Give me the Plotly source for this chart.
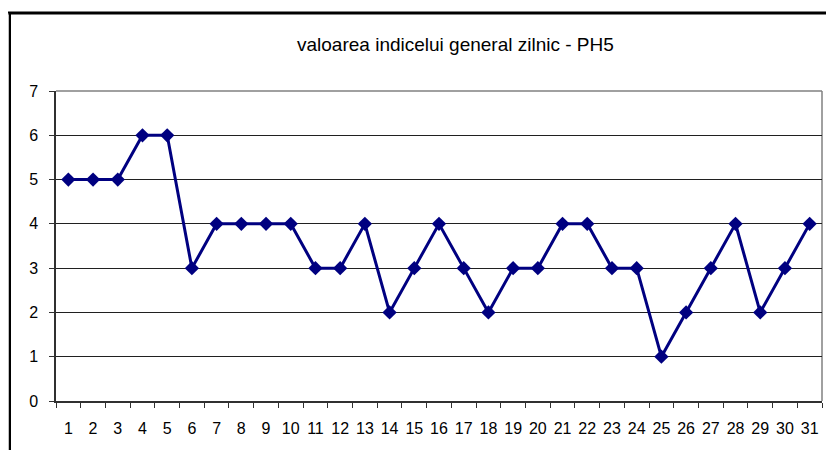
import plotly.graph_objects as go

days = list(range(1, 32))
values = [5, 5, 5, 6, 6, 3, 4, 4, 4, 4, 3, 3, 4, 2, 3, 4, 3, 2, 3, 3, 4, 4, 3, 3, 1, 2, 3, 4, 2, 3, 4]
y_ticks = [0, 1, 2, 3, 4, 5, 6, 7]
title_text = "valoarea indicelui general zilnic - PH5"

# page body has an 8px margin; work in figure pixels = screen pixels - 8
OFF = 8
W, H = 834 - OFF, 450 - OFF
L, T = 56 - OFF, 91 - OFF
RIGHT, BOTTOM = 822 - OFF, 401 - OFF
R, B = W - RIGHT, H - BOTTOM
pw, ph = RIGHT - L, BOTTOM - T

def px2x(px):
    return (px - OFF - L) / pw

def py2y(py):
    return (BOTTOM - (py - OFF)) / ph

fig = go.Figure()
fig.add_trace(go.Scatter(
    x=days, y=values, mode="lines+markers",
    line=dict(color="#000080", width=3),
    marker=dict(symbol="diamond", size=11, color="#000080"),
    showlegend=False, hoverinfo="x+y",
))

font = dict(family="Liberation Sans, Arial, sans-serif", size=16, color="#000000")

fig.update_layout(
    width=W, height=H,
    margin=dict(l=L, r=R, t=T, b=B),
    paper_bgcolor="white", plot_bgcolor="white",
    font=font,
    annotations=[dict(
        text=title_text, x=px2x(455), y=py2y(44), xref="paper", yref="paper",
        showarrow=False, xanchor="center", yanchor="middle",
        font=dict(family="Liberation Sans, Arial, sans-serif", size=19, color="#000000"),
    )],
    shapes=[
        dict(type="line", xref="paper", yref="paper", x0=px2x(8), x1=px2x(900), y0=py2y(13), y1=py2y(13),
             line=dict(color="#000000", width=3)),
        dict(type="line", xref="paper", yref="paper", x0=px2x(10), x1=px2x(10), y0=py2y(13), y1=py2y(500),
             line=dict(color="#000000", width=2)),
        dict(type="line", xref="paper", yref="paper", x0=px2x(8), x1=px2x(8), y0=py2y(13), y1=py2y(500),
             line=dict(color="#808080", width=1)),
        dict(type="line", xref="paper", yref="paper", x0=0, x1=1, y0=1, y1=1,
             line=dict(color="#808080", width=1.5), layer="below"),
        dict(type="line", xref="paper", yref="paper", x0=1, x1=1, y0=0, y1=1,
             line=dict(color="#808080", width=1.5), layer="below"),
    ],
)

fig.update_xaxes(
    range=[0.5, 31.5], tickmode="array", tickvals=days, ticktext=[str(d) for d in days],
    ticks="", ticklen=0, showgrid=False, zeroline=False,
    showline=True, linecolor="#303030", linewidth=1.5,
    ticklabelstandoff=12, tickfont=font,
    minor=dict(tick0=0.5, dtick=1, ticks="outside", ticklen=5, tickcolor="#303030", tickwidth=1, showgrid=False),
)
fig.update_yaxes(
    range=[0, 7], tickmode="array", tickvals=y_ticks, ticktext=[str(v) for v in y_ticks],
    ticks="outside", ticklen=5, tickcolor="#303030", tickwidth=1,
    showgrid=True, gridcolor="#202020", gridwidth=1, zeroline=False,
    showline=True, linecolor="#303030", linewidth=1.5,
    ticklabelstandoff=8, tickfont=font,
)

fig.write_html("out.html")
